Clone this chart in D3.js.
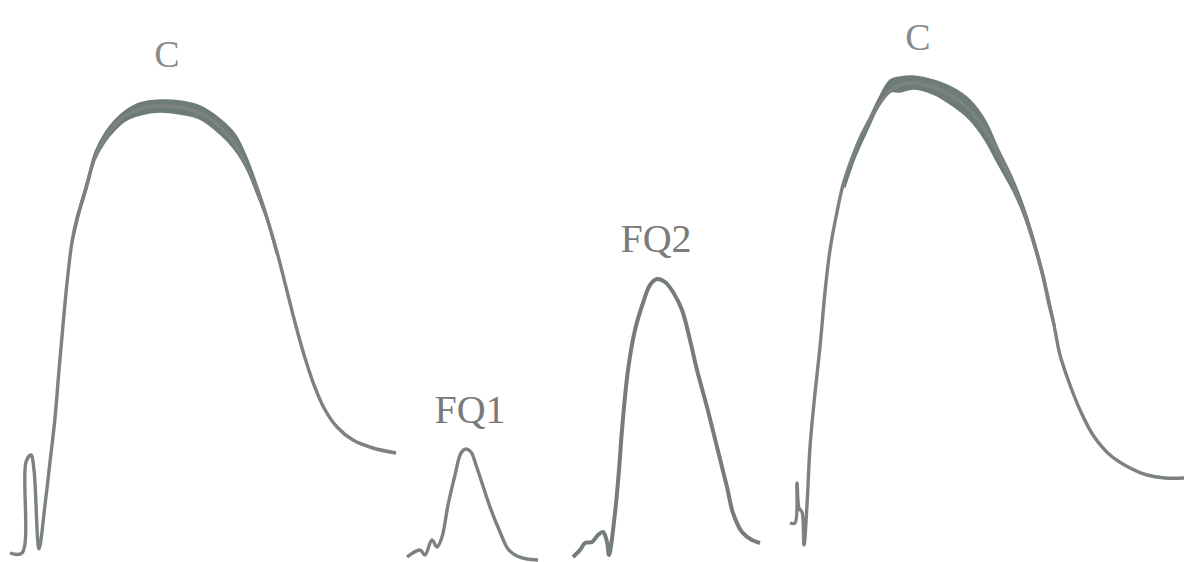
<!DOCTYPE html>
<html>
<head>
<meta charset="utf-8">
<script src="https://cdn.jsdelivr.net/npm/d3@7/dist/d3.min.js"></script>
<style>
  html, body { margin: 0; padding: 0; background: #ffffff; }
  svg { display: block; }
</style>
</head>
<body>
<script>
// ---- Data (time units, signal units) ----
const traceNames = ["C", "FQ1", "FQ2", "C"];

const traceC1 = [
  [10,9],[22,9],[26,100],[31,107],[34,92],[39,13],[45,57],[50,100],[55,144],[59,192],
  [63,237],[67,279],[72,320],[77,344],[85,370],[95,405],[107,427],[120,442],[137,452],
  [157,456],[177,455],[197,450],[217,438],[232,422],[245,399],[256,375],[266,347],
  [277,310],[288,267],[297,232],[305,204],[314,177],[324,154],[337,135],[353,122],
  [373,114],[396,109]
];
const traceFQ1 = [
  [407,5],[420,12],[425,7],[432,22],[437,15],[442,25],[448,57],[455,87],[461,109],
  [466,113],[471,110],[476,97],[482,79],[490,55],[500,30],[508,13],[517,6],[527,3],[538,2]
];
const traceFQ2 = [
  [573,5],[580,12],[585,19],[592,20],[598,27],[603,30],[607,20],[609,7],[615,49],
  [619,92],[622,132],[628,192],[635,232],[643,259],[650,277],[657,283],[665,280],
  [673,270],[682,252],[690,222],[697,192],[707,155],[717,115],[727,75],[733,49],
  [742,30],[752,22],[760,19]
];
const traceC2 = [
  [790,39],[795,39],[797,79],[799,54],[802,50],[804,17],[807,57],[810,115],[815,169],
  [820,215],[825,270],[830,312],[837,350],[843,377],[852,404],[862,428],[873,448],
  [887,468],[900,477],[913,479],[933,475],[953,465],[970,452],[985,432],[1000,405],
  [1013,377],[1023,352],[1033,322],[1042,290],[1048,262],[1054,237],[1060,207],
  [1070,177],[1080,152],[1093,127],[1110,107],[1130,94],[1147,87],[1165,84],[1184,84]
];
// noisy band near the crest of each C trace: [time, upper, lower]
const bandC1 = [
  [72,323,317],[80,357,350],[88,385,377],
  [95,410,402],[105,429,420],[115,442,432],[125,451,441],[140,459,447],[160,462,450],
  [180,461,448],[200,456,443],[220,443,428],[235,428,412],[247,404,392],[256,380,370],
  [266,350,344],[276,314,309]
];
const bandC2 = [
  [845,383,375],[855,412,404],[868,441,433],
  [880,466,458],[890,482,470],[900,485,470],[913,486,473],[933,482,468],[953,474,456],
  [970,462,442],[985,442,422],[998,414,398],[1013,383,371],[1025,352,343],
  [1042,294,286],[1055,236,230]
];
// label anchor for each trace: [time, signal]
const labelAnchors = [[167,495],[470,139],[656,310],[918,512]];

// ---- Drawing ----
const W = 1184, H = 562;
const svg = d3.select("body").append("svg").attr("width", W).attr("height", H);

const x = d3.scaleLinear().domain([0, 1184]).range([0, W]);
const y = d3.scaleLinear().domain([0, 562]).range([H, 0]);

const traces = [traceC1, traceFQ1, traceFQ2, traceC2];
const bands = [bandC1, bandC2];

const line = d3.line()
  .x(d => x(d[0])).y(d => y(d[1]))
  .curve(d3.curveCatmullRom.alpha(0.5));

const area = d3.area()
  .x(d => x(d[0])).y0(d => y(d[2])).y1(d => y(d[1]))
  .curve(d3.curveCatmullRom.alpha(0.5));

svg.append("g").selectAll("path.band")
  .data(bands).join("path")
  .attr("class", "band")
  .attr("d", area)
  .attr("fill", "#6e7c78")
  .attr("stroke", "#6e7c78")
  .attr("stroke-width", 1.5)
  .attr("stroke-linejoin", "round");

svg.append("g").selectAll("path.trace")
  .data(traces).join("path")
  .attr("class", "trace")
  .attr("d", line)
  .attr("fill", "none")
  .attr("stroke", (d, i) => (i === 2 ? "#747d7a" : "#7c8280"))
  .attr("stroke-width", (d, i) => (i === 2 ? 4 : 3.4))
  .attr("stroke-linejoin", "round")
  .attr("stroke-linecap", "butt");

svg.append("g").selectAll("text")
  .data(traceNames).join("text")
  .attr("x", (d, i) => x(labelAnchors[i][0]))
  .attr("y", (d, i) => y(labelAnchors[i][1]))
  .attr("text-anchor", "middle")
  .attr("font-family", "'Liberation Serif', 'Times New Roman', serif")
  .attr("font-size", (d) => (d === "C" ? 38 : 40))
  .attr("fill", (d) => (d === "C" ? "#8a8a8a" : "#7a7a7a"))
  .text(d => d);
</script>
</body>
</html>
